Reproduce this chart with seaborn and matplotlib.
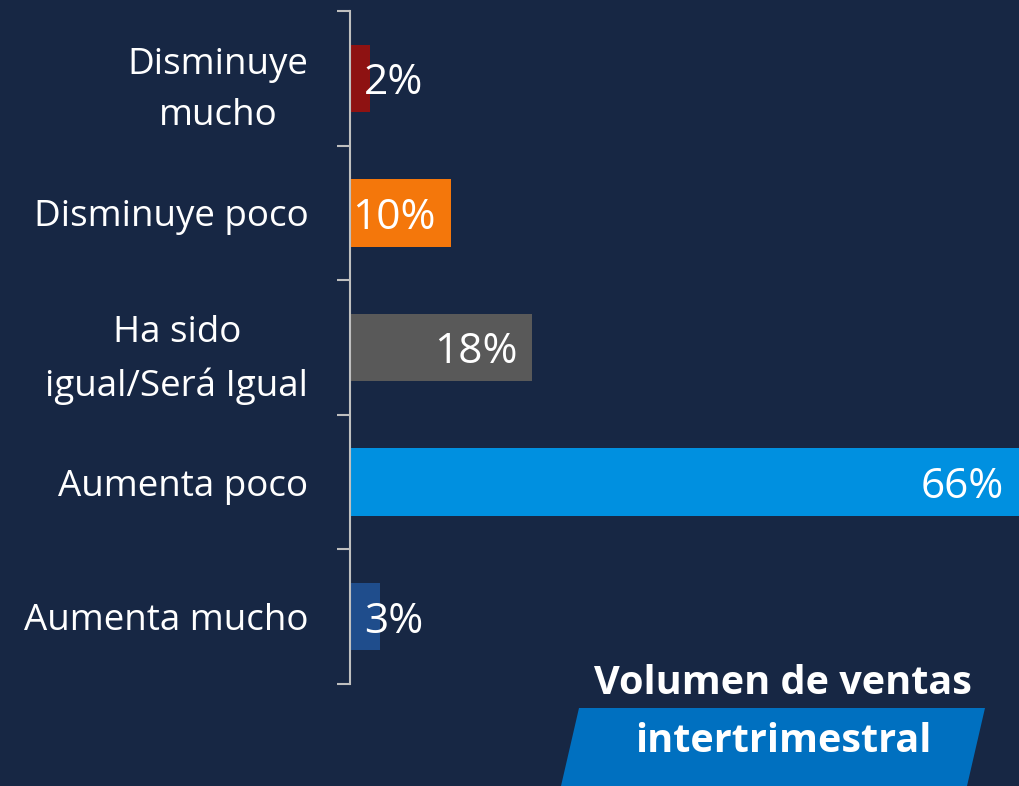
import matplotlib
matplotlib.use("Agg")
import matplotlib.pyplot as plt
from matplotlib.patches import Polygon
import seaborn as sns
import pandas as pd

# data
categorias = ["Disminuye\nmucho", "Disminuye poco", "Ha sido\nigual/Será Igual",
              "Aumenta poco", "Aumenta mucho"]
porcentajes = [2, 10, 18, 66, 3]
colores = ["#8E1212", "#F4770B", "#595959", "#0090E0", "#1F4D8C"]
titulo_1 = "Volumen de ventas"
titulo_2 = "intertrimestral"

fondo = "#172744"

sns.set_theme(style="white")
plt.rcParams["font.family"] = ["Open Sans", "DejaVu Sans"]

df = pd.DataFrame({"categoria": categorias, "valor": porcentajes})

fig = plt.figure(figsize=(10.19, 7.86), dpi=100, facecolor=fondo)
ax = fig.add_axes([350 / 1019, 1 - 684 / 786, 1 - 350 / 1019, (684 - 11) / 786])
ax.set_facecolor(fondo)

sns.barplot(data=df, x="valor", y="categoria", hue="categoria", palette=colores,
            orient="h", width=0.5, legend=False, saturation=1, linewidth=0,
            edgecolor="none", ax=ax)

ax.set_xlim(0, 66)
ax.set_ylim(4.5, -0.5)
ax.set_xlabel("")
ax.set_ylabel("")
ax.set_xticks([])

# tick marks at the category borders, labels at the centres
ax.set_yticks([i - 0.5 for i in range(len(categorias) + 1)])
ax.set_yticklabels([])
ax.set_yticks(range(len(categorias)), minor=True)
ax.set_yticklabels(categorias, minor=True, fontsize=26.5, color="white",
                   linespacing=1.56)
ax.tick_params(axis="y", which="major", length=9.5, width=1.5, color="#BFBFBF",
               direction="out", left=True)
ax.tick_params(axis="y", which="minor", length=0, pad=30)
for lbl in ax.get_yticklabels(minor=True):
    lbl.set_horizontalalignment("right")
    lbl.set_multialignment("center")

for s in ["top", "right", "bottom"]:
    ax.spines[s].set_visible(False)
ax.spines["left"].set_color("#BFBFBF")
ax.spines["left"].set_linewidth(1.5)

# value labels
for i, v in enumerate(porcentajes):
    if v >= 8:
        ax.annotate(f"{v}%", xy=(v, i), xytext=(-11, 0), textcoords="offset points",
                    ha="right", va="center_baseline", color="white", fontsize=30.5)
    else:
        ax.annotate(f"{v}%", xy=(0, i), xytext=(10, 0), textcoords="offset points",
                    ha="left", va="center_baseline", color="white", fontsize=30.5)

# caption box
W, H = 1019, 786
caja = Polygon([(579 / W, 1 - 708 / H), (985 / W, 1 - 708 / H),
                (967 / W, 0), (561 / W, 0)],
               closed=True, transform=fig.transFigure, facecolor="#0070C0",
               edgecolor="none")
fig.add_artist(caja)
fig.text(783 / W, 1 - 684 / H, titulo_1, ha="center", va="center",
         color="white", fontsize=28.5, fontweight="bold")
fig.text(783 / W, 1 - 741 / H, titulo_2, ha="center", va="center",
         color="white", fontsize=28.5, fontweight="bold")

fig.savefig("out.png", dpi=100, facecolor=fondo)
